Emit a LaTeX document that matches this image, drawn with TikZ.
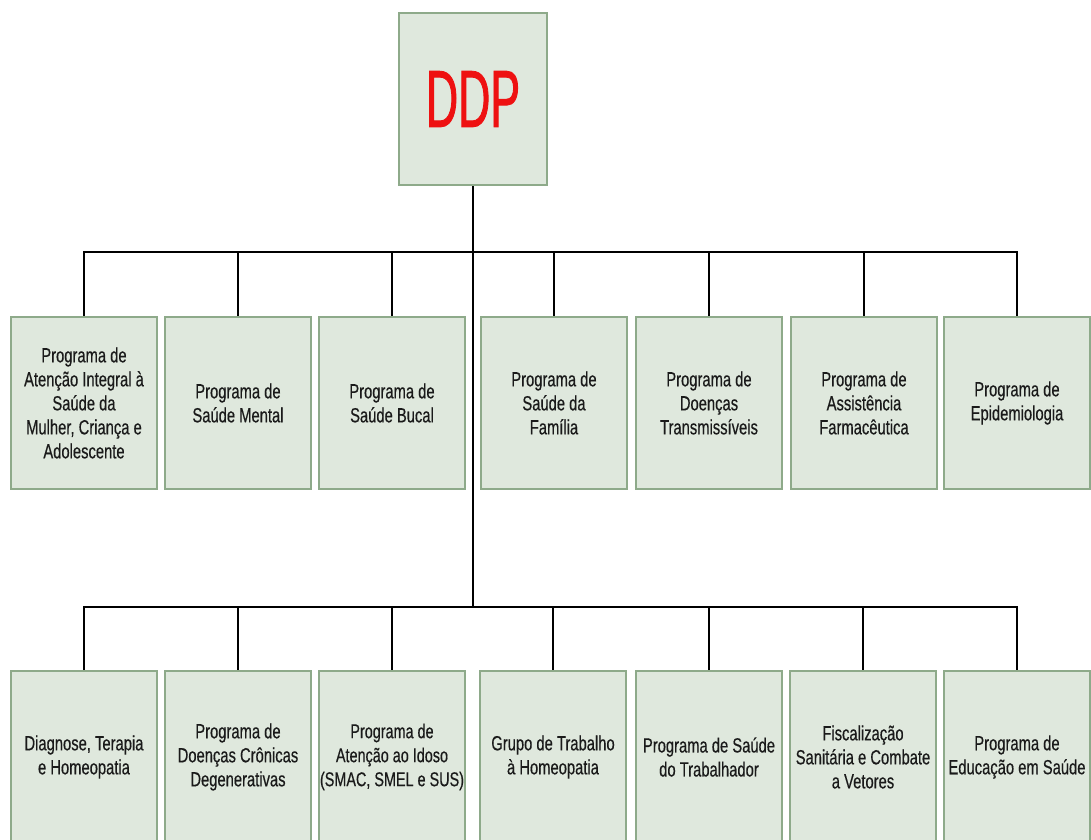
\documentclass[tikz,border=0pt]{standalone}
\usepackage{fontspec}
\usepackage{tikz}
\usetikzlibrary{positioning}
\newfontfamily\boxfont[FakeStretch=0.72, FakeBold=0.4]{Liberation Sans}
\newfontfamily\ddpfont[FakeStretch=0.55, FakeBold=1]{Liberation Sans}
\definecolor{cfill}{HTML}{DFE8DD}
\definecolor{cborder}{HTML}{8EAA8A}
\definecolor{ctext}{HTML}{1A1A1A}
\definecolor{cred}{HTML}{EE1111}

\begin{document}
\begin{tikzpicture}[x=1pt, y=-1pt,
  prog/.style={draw=cborder, fill=cfill, line width=2pt, minimum width=146pt,
    minimum height=172pt, align=center, inner sep=0pt,
    text=ctext, font=\boxfont\fontsize{20.5}{24}\selectfont},
  link/.style={line width=1.6pt, black}]
  \useasboundingbox (0,0) rectangle (1091,839);
  \clip (0,0) rectangle (1091,839);
  % head
  \node[prog, minimum width=148pt, text=cred, font=\ddpfont\fontsize{81}{81}\selectfont] (ddp) at (473,99) {DDP};
  % first row
  \node[prog] (p1) at (84,403) {Programa de\\Atenção Integral à\\Saúde da\\Mulher, Criança e\\Adolescente};
  \node[prog] (p2) at (238,403) {Programa de\\Saúde Mental};
  \node[prog] (p3) at (392,403) {Programa de\\Saúde Bucal};
  \node[prog] (p4) at (554,403) {Programa de\\Saúde da\\Família};
  \node[prog] (p5) at (709,403) {Programa de\\Doenças\\Transmissíveis};
  \node[prog] (p6) at (864,403) {Programa de\\Assistência\\Farmacêutica};
  \node[prog] (p7) at (1017,403) {Programa de\\Epidemiologia};
  % second row
  \node[prog] (g1) at (84,757) {Diagnose, Terapia\\e Homeopatia};
  \node[prog] (g2) at (238,757) {Programa de\\Doenças Crônicas\\Degenerativas};
  \node[prog, font=\boxfont\fontsize{20}{24}\selectfont] (g3) at (392,757) {Programa de\\Atenção ao Idoso\\(SMAC, SMEL e SUS)};
  \node[prog] (g4) at (553,757) {Grupo de Trabalho\\à Homeopatia};
  \node[prog] (g5) at (709,757) {Programa de Saúde\\do Trabalhador};
  \node[prog] (g6) at (863,757) {Fiscalização\\Sanitária e Combate\\a Vetores};
  \node[prog] (g7) at (1017,757) {Programa de\\Educação em Saúde};
  % connectors
  \coordinate (bus1) at (473,252);
  \coordinate (bus2) at (473,607);
  \draw[link] (ddp.south) -- (bus2);
  \foreach \i in {1,...,7}{
    \draw[link] (bus1) -| (p\i.north);
    \draw[link] (bus2) -| (g\i.north);
  }
\end{tikzpicture}
\end{document}
